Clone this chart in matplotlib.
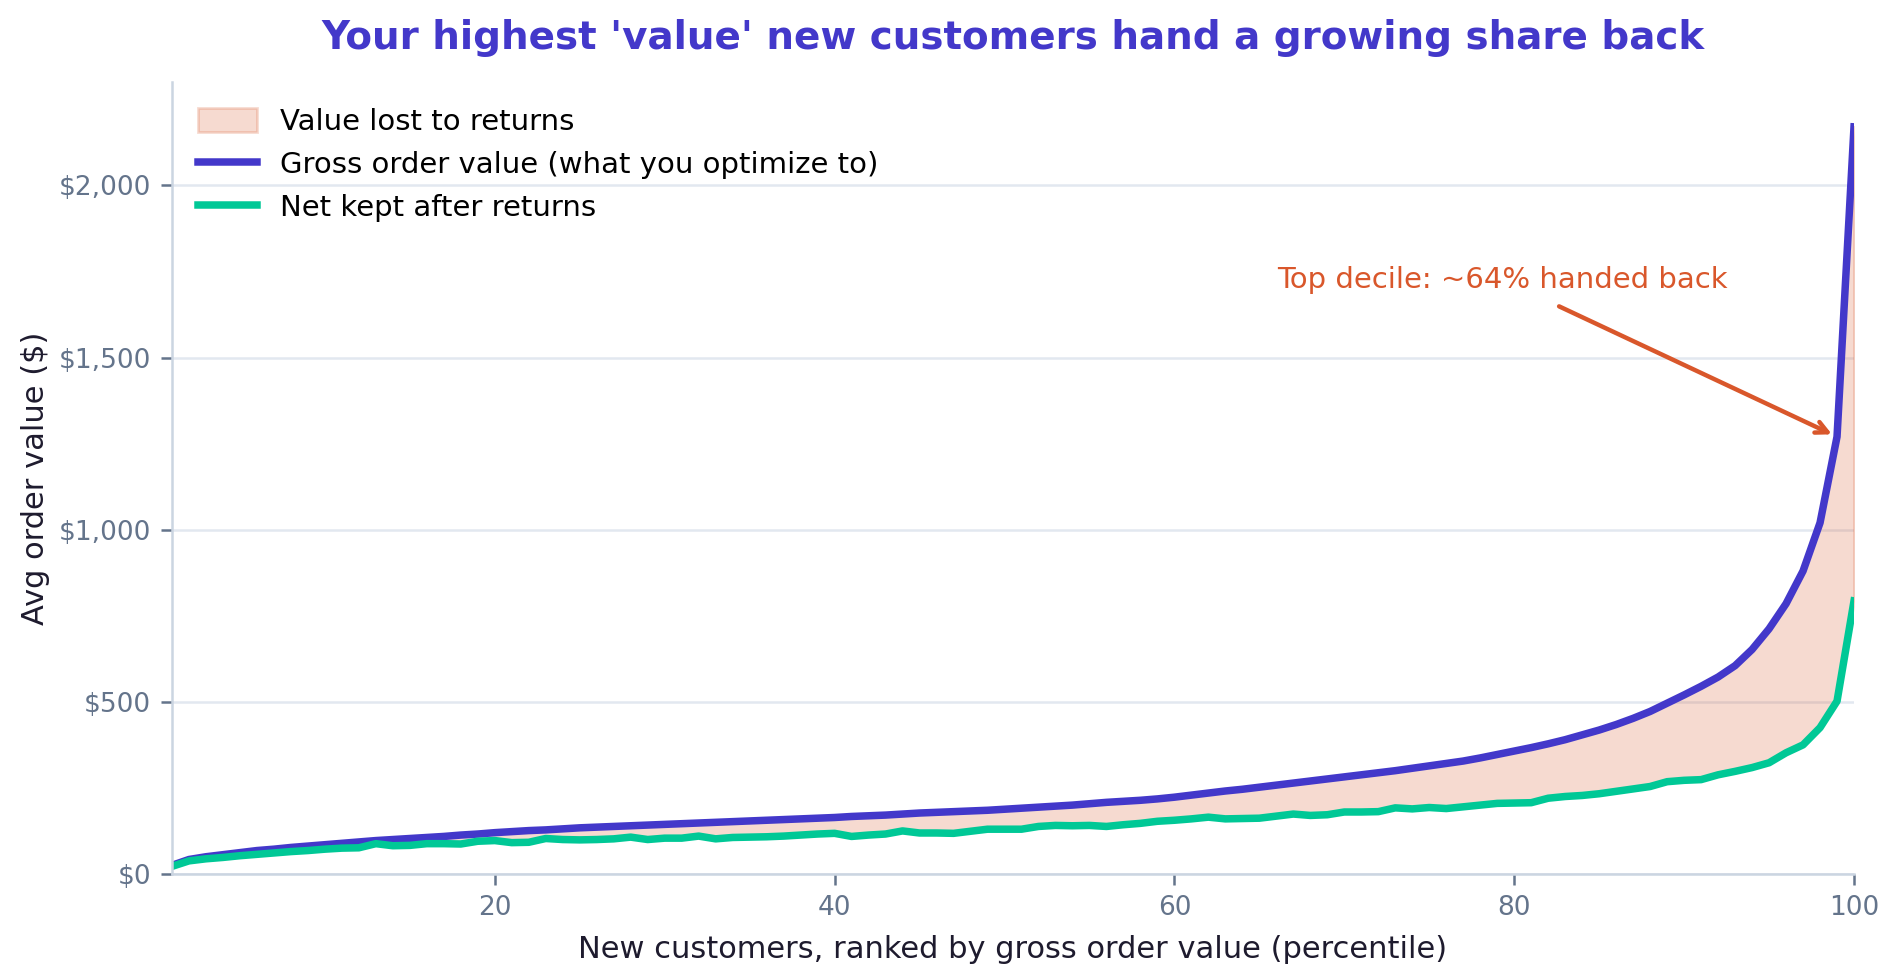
import matplotlib
matplotlib.use("Agg")
import matplotlib.pyplot as plt
from matplotlib.ticker import FuncFormatter, FixedLocator

percentile = list(range(1, 101))

gross = [25, 42, 50, 56, 62, 68, 72, 77, 81, 85,
         89, 93, 97, 100, 103, 106, 109, 113, 116, 120,
         123, 126, 128, 131, 134, 136, 138, 140, 142, 144,
         146, 148, 150, 152, 154, 156, 158, 160, 162, 164,
         167, 169, 171, 174, 177, 179, 181, 183, 185, 188,
         191, 194, 197, 200, 204, 208, 211, 214, 218, 223,
         229, 235, 241, 246, 252, 258, 264, 270, 276, 282,
         288, 294, 300, 307, 314, 321, 328, 337, 347, 357,
         367, 378, 390, 404, 418, 434, 452, 472, 496, 520,
         545, 572, 605, 652, 712, 785, 880, 1020, 1270, 2170]

net = [22, 38, 44, 48, 53, 57, 61, 65, 68, 72,
       75, 76, 88, 82, 83, 88, 88, 87, 95, 97,
       91, 92, 103, 100, 99, 100, 102, 107, 100, 104,
       104, 110, 102, 106, 107, 108, 110, 113, 116, 118,
       109, 113, 116, 125, 119, 119, 118, 124, 130, 130,
       130, 138, 141, 140, 141, 138, 143, 147, 153, 156,
       160, 165, 160, 161, 162, 168, 174, 170, 172, 180,
       180, 181, 192, 189, 193, 190, 195, 200, 205, 206,
       207, 220, 225, 228, 233, 240, 247, 254, 268, 272,
       274, 288, 298, 309, 323, 352, 375, 425, 502, 793]

y_ticks = [0, 500, 1000, 1500, 2000]
x_ticks = [20, 40, 60, 80, 100]

title = "Your highest 'value' new customers hand a growing share back"
annot_text = "Top decile: ~64% handed back"

C_GROSS = "#4338CA"
C_NET = "#00C896"
C_LOSS = "#D9572B"
C_TICK = "#64748B"
C_SPINE = "#CBD5E1"
C_GRID = "#E2E8F0"
C_LABEL = "#1E1B2E"

plt.rcParams['font.family'] = ['DejaVu Sans']

fig = plt.figure(figsize=(9.5, 4.9), dpi=200)
ax = fig.add_axes([0.0905, 0.1082, 0.8853, 0.8081])

ax.fill_between(percentile, net, gross, color=C_LOSS, alpha=0.22, linewidth=1.0,
                label="Value lost to returns")
ax.plot(percentile, gross, color=C_GROSS, lw=2.7, label="Gross order value (what you optimize to)")
ax.plot(percentile, net, color=C_NET, lw=2.7, label="Net kept after returns")

ax.set_xlim(1, 100)
ax.set_ylim(0, max(gross) * 1.06)
ax.xaxis.set_major_locator(FixedLocator(x_ticks))
ax.yaxis.set_major_locator(FixedLocator(y_ticks))
ax.yaxis.set_major_formatter(FuncFormatter(lambda v, p: "$" + format(int(v), ",")))

ax.grid(axis='y', color=C_GRID, lw=0.9)
ax.set_axisbelow(True)
for s in ['top', 'right']:
    ax.spines[s].set_visible(False)
for s in ['left', 'bottom']:
    ax.spines[s].set_color(C_SPINE)
    ax.spines[s].set_linewidth(0.9)
ax.tick_params(colors=C_TICK, labelsize=9.5, length=4, width=0.9)

ax.set_xlabel("New customers, ranked by gross order value (percentile)", fontsize=11, color=C_LABEL, labelpad=5)
ax.set_ylabel("Avg order value ($)", fontsize=11, color=C_LABEL, labelpad=3)
ax.set_title(title, fontsize=14, fontweight='bold', color=C_GROSS, pad=12)

ax.annotate(annot_text, xy=(99, 1270), xytext=(79.3, 1726), ha='center', va='center',
            fontsize=10.5, color=C_LOSS,
            arrowprops=dict(arrowstyle='->', color=C_LOSS, lw=1.6, shrinkA=6, shrinkB=2))

ax.legend(loc='upper left', frameon=False, fontsize=10.5, borderaxespad=0.5,
          handlelength=2.0, handleheight=0.9, labelspacing=0.5)

fig.savefig("out.png", dpi=200)
